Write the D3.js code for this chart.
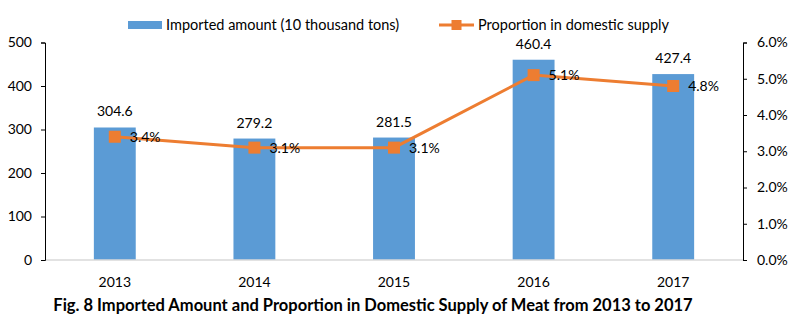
<!DOCTYPE html>
<html>
<head>
<meta charset="utf-8">
<script src="https://cdn.jsdelivr.net/npm/d3@7"></script>
<style>
  body { margin: 0; background: #fff; }
  svg text { font-family: Lato, "Open Sans", sans-serif; fill: #000; }
</style>
</head>
<body>
<div id="chart"></div>
<script>
const years = ["2013", "2014", "2015", "2016", "2017"];
const imported = [304.6, 279.2, 281.5, 460.4, 427.4];
const proportion = [3.4, 3.1, 3.1, 5.1, 4.8];
const leftTicks = [0, 100, 200, 300, 400, 500];
const rightTicks = [0, 1, 2, 3, 4, 5, 6];

const width = 803;
const height = 328;
const blue = "#5B9BD5";
const orange = "#ED7D31";

const svg = d3.select("#chart")
    .append("svg")
    .attr("width", width)
    .attr("height", height);

const x = d3.scaleBand()
    .domain(years)
    .range([45, 743]);

const yLeft = d3.scaleLinear()
    .domain([0, 500])
    .range([260, 42.5]);

const yRight = d3.scaleLinear()
    .domain([0, 6])
    .range([260, 42.5]);

const barW = x.bandwidth() * 0.3;
const cx = d => x(d) + x.bandwidth() / 2;

// bars
svg.selectAll("rect.bar")
    .data(imported)
    .join("rect")
    .attr("class", "bar")
    .attr("x", (d, i) => cx(years[i]) - barW / 2)
    .attr("y", d => yLeft(d))
    .attr("width", barW)
    .attr("height", d => yLeft(0) - yLeft(d))
    .attr("fill", blue);

// bar labels
svg.selectAll("text.barlabel")
    .data(imported)
    .join("text")
    .attr("class", "barlabel")
    .attr("x", (d, i) => cx(years[i]))
    .attr("y", d => yLeft(d) - 11)
    .attr("text-anchor", "middle")
    .style("font-size", "14px")
    .text(d => d.toFixed(1));

// baseline
svg.append("line")
    .attr("x1", 45).attr("x2", 743)
    .attr("y1", 260).attr("y2", 260)
    .attr("stroke", "#D9D9D9")
    .attr("stroke-width", 1.5);

// left axis
const leftAxis = svg.append("g")
    .attr("transform", "translate(45,0)")
    .call(d3.axisLeft(yLeft).tickValues(leftTicks).tickSizeOuter(0).tickSize(4).tickPadding(9));

// right axis
const rightAxis = svg.append("g")
    .attr("transform", "translate(743,0)")
    .call(d3.axisRight(yRight).tickValues(rightTicks).tickSizeOuter(0).tickSize(4).tickPadding(10)
        .tickFormat(d => d.toFixed(1) + "%"));

[leftAxis, rightAxis].forEach(g => {
    g.select(".domain").attr("stroke", "#000");
    g.selectAll(".tick line").attr("stroke", "#000");
    g.selectAll(".tick text")
        .style("font-family", "Lato, sans-serif")
        .style("font-size", "14px")
        .attr("fill", "#000");
});

// x labels
svg.selectAll("text.xlabel")
    .data(years)
    .join("text")
    .attr("class", "xlabel")
    .attr("x", d => cx(d))
    .attr("y", 287)
    .attr("text-anchor", "middle")
    .style("font-size", "14px")
    .text(d => d);

// line
const line = d3.line()
    .x((d, i) => cx(years[i]))
    .y(d => yRight(d));

svg.append("path")
    .datum(proportion)
    .attr("d", line)
    .attr("fill", "none")
    .attr("stroke", orange)
    .attr("stroke-width", 3);

svg.selectAll("rect.marker")
    .data(proportion)
    .join("rect")
    .attr("class", "marker")
    .attr("x", (d, i) => cx(years[i]) - 6)
    .attr("y", d => yRight(d) - 6)
    .attr("width", 12)
    .attr("height", 12)
    .attr("fill", orange);

svg.selectAll("text.linelabel")
    .data(proportion)
    .join("text")
    .attr("class", "linelabel")
    .attr("x", (d, i) => cx(years[i]) + 15)
    .attr("y", d => yRight(d) + 5)
    .style("font-size", "14px")
    .text(d => d.toFixed(1) + "%");

// legend
svg.append("rect")
    .attr("x", 128).attr("y", 21)
    .attr("width", 34).attr("height", 8)
    .attr("fill", blue);
svg.append("text")
    .attr("x", 166).attr("y", 30)
    .style("font-size", "14.5px")
    .text("Imported amount (10 thousand tons)");

svg.append("line")
    .attr("x1", 439).attr("x2", 474)
    .attr("y1", 25).attr("y2", 25)
    .attr("stroke", orange)
    .attr("stroke-width", 3);
svg.append("rect")
    .attr("x", 451.5).attr("y", 20)
    .attr("width", 10).attr("height", 10)
    .attr("fill", orange);
svg.append("text")
    .attr("x", 478).attr("y", 30)
    .style("font-size", "14.5px")
    .text("Proportion in domestic supply");

// title
svg.append("text")
    .attr("x", 373).attr("y", 311)
    .attr("text-anchor", "middle")
    .style("font-size", "16.5px")
    .style("font-weight", "bold")
    .text("Fig. 8 Imported Amount and Proportion in Domestic Supply of Meat from 2013 to 2017");
</script>
</body>
</html>
